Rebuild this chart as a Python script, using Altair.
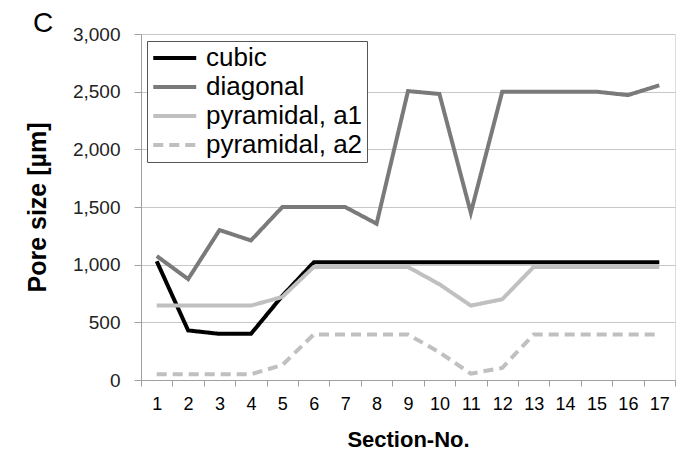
import altair as alt
import pandas as pd

sections = [str(i) for i in range(1, 18)]
series_names = ["cubic", "diagonal", "pyramidal, a1", "pyramidal, a2"]
cubic = [1030, 430, 400, 400, 730, 1020, 1020, 1020, 1020, 1020, 1020, 1020, 1020, 1020, 1020, 1020, 1020]
diagonal = [1075, 875, 1300, 1210, 1500, 1500, 1500, 1355, 2505, 2480, 1450, 2500, 2500, 2500, 2500, 2470, 2555]
pyr_a1 = [645, 645, 645, 645, 720, 980, 980, 980, 980, 830, 645, 700, 980, 980, 980, 980, 980]
pyr_a2 = [50, 50, 50, 50, 130, 395, 395, 395, 395, 240, 55, 105, 395, 395, 395, 395, 395]

colors = ["#000000", "#7a7a7a", "#c0c0c0", "#c0c0c0"]
dashes = [[1, 0], [1, 0], [1, 0], [10, 6]]
y_ticks = [0, 500, 1000, 1500, 2000, 2500, 3000]

rows = []
for name, vals in zip(series_names, [cubic, diagonal, pyr_a1, pyr_a2]):
    for s, v in zip(sections, vals):
        rows.append({"section": s, "value": v, "series": name})
df = pd.DataFrame(rows)

FONT = "Liberation Sans"

legend = alt.Legend(
    title=None, orient="none", legendX=6, legendY=7,
    symbolType="M-1,0H3", symbolSize=462, symbolStrokeWidth=4,
    labelFontSize=26, labelFont=FONT, labelColor="#000000", labelLimit=400,
    labelExpr="datum.label + '\u00a0'",
    padding=4, rowPadding=3, labelOffset=29,
    strokeColor="#555555", fillColor="#ffffff",
)

chart = alt.Chart(df).mark_line(strokeWidth=4).encode(
    x=alt.X("section:O", sort=sections,
            scale=alt.Scale(type="band", paddingInner=0, paddingOuter=0),
            axis=alt.Axis(title="Section-No.", labelAngle=0, tickBand="extent",
                          labelFontSize=18, titleFontSize=22, titleFontWeight="bold",
                          labelFont=FONT, titleFont=FONT, labelColor="#000000", titleColor="#000000",
                          domainColor="#a0a0a0", tickColor="#a0a0a0", tickSize=6,
                          labelPadding=9, titlePadding=16, grid=False)),
    y=alt.Y("value:Q", scale=alt.Scale(domain=[0, 3000]),
            axis=alt.Axis(title="Pore size [µm]", values=y_ticks,
                          format=",.0f", labelFontSize=19, titleFontSize=25, titleFontWeight="bold",
                          labelFont=FONT, titleFont=FONT, labelColor="#222222", titleColor="#000000",
                          domainColor="#a0a0a0", tickColor="#a0a0a0", tickSize=7,
                          gridColor="#c8c8c8", labelPadding=14, titlePadding=22)),
    color=alt.Color("series:N", sort=series_names,
                    scale=alt.Scale(domain=series_names, range=colors), legend=legend),
    strokeDash=alt.StrokeDash("series:N", sort=series_names,
                              scale=alt.Scale(domain=series_names, range=dashes), legend=legend),
).properties(
    width=534, height=346,
    padding={"left": 17, "top": 2, "right": 4, "bottom": 0},
    title=alt.TitleParams("C", anchor="start", frame="group", dx=-108, fontSize=28,
                          font=FONT, fontWeight="normal", color="#000000", offset=-13),
).configure_view(stroke=None).configure(background="#ffffff")

chart.save("out.html", embed_options={"renderer": "svg", "actions": False})
